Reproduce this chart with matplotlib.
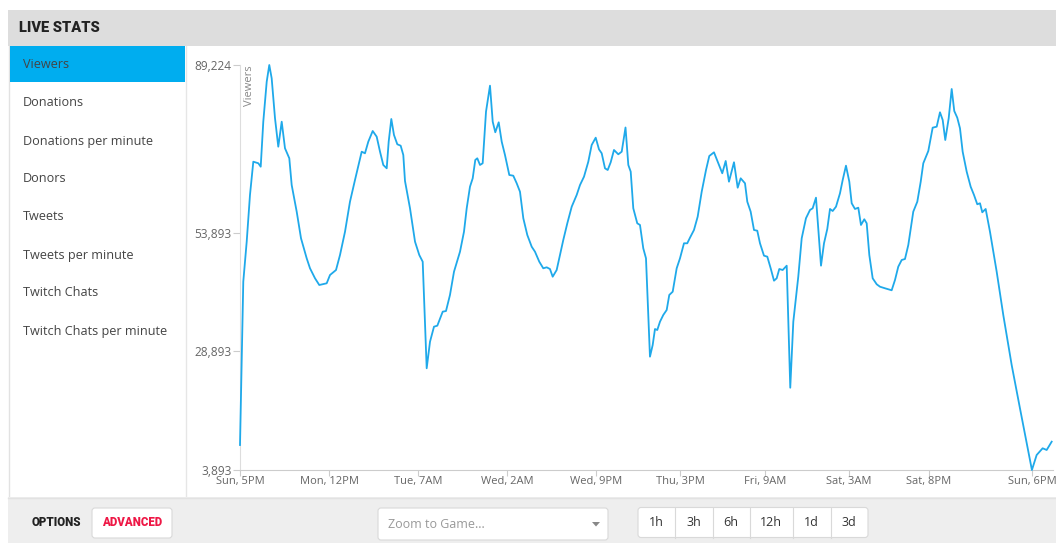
import matplotlib
matplotlib.use('Agg')
import matplotlib.pyplot as plt
from matplotlib.patches import Rectangle, FancyBboxPatch, Polygon

W, H = 1056, 543

# viewer counts over the week (hours after Sun 5PM)
hours = [0.0, 0.70, 1.43, 2.13, 2.84, 3.91, 4.42, 4.97, 5.70, 6.25,
         6.76, 7.47, 8.17, 8.90, 9.60, 10.52, 11.03, 12.10, 13.02, 14.23,
         14.94, 16.01, 16.92, 18.50, 19.21, 20.49, 21.34, 22.41, 23.47, 24.54,
         25.97, 26.67, 27.38, 28.32, 29.17, 29.88, 30.58, 31.31, 31.73, 32.29,
         32.86, 33.57, 34.29, 34.85, 35.21, 36.28, 37.35, 38.26, 38.99, 39.84,
         40.55, 41.40, 42.11, 43.26, 43.96, 44.81, 45.67, 46.95, 47.80, 48.38,
         49.08, 49.66, 50.21, 50.64, 51.22, 51.79, 52.50, 53.35, 53.93, 54.48,
         55.21, 55.85, 56.55, 57.47, 58.32, 59.05, 59.75, 60.46, 61.31, 62.25,
         62.95, 63.87, 64.72, 65.45, 66.15, 66.73, 67.58, 68.29, 68.99, 69.85,
         70.79, 71.85, 72.56, 73.41, 74.33, 75.05, 75.91, 76.61, 77.19, 77.89,
         78.47, 79.11, 79.81, 80.73, 81.46, 82.27, 82.87, 83.38, 83.93, 84.78,
         85.36, 86.06, 86.64, 87.49, 88.07, 88.56, 89.05, 89.63, 90.33, 91.06,
         91.61, 92.34, 93.19, 93.90, 94.75, 95.45, 96.03, 96.88, 97.67, 98.53,
         99.45, 100.15, 101.15, 102.07, 102.92, 103.65, 104.35, 105.42, 106.21, 106.85,
         107.77, 108.26, 108.98, 109.69, 110.39, 110.97, 111.82, 112.53, 113.25, 113.96,
         114.53, 115.09, 115.81, 116.67, 117.43, 118.08, 119.14, 119.87, 120.78, 121.64,
         122.21, 122.92, 123.99, 124.63, 125.33, 125.91, 126.48, 127.19, 128.04, 128.62,
         129.32, 130.03, 130.54, 131.24, 131.95, 132.52, 133.23, 133.74, 134.30, 135.02,
         135.88, 136.58, 137.64, 139.07, 139.78, 140.48, 141.21, 141.91, 142.62, 143.68,
         144.54, 145.27, 145.82, 146.89, 147.82, 148.68, 149.38, 149.96, 150.51, 151.24,
         151.88, 152.43, 153.07, 153.65, 154.22, 155.08, 155.93, 156.64, 157.34, 157.92,
         158.41, 159.13, 160.05, 161.48, 162.89, 164.68, 166.45, 169.0, 170.01, 171.29,
         172.15, 173.22]
viewers = [9160, 43570, 52000, 61840, 68850, 68520, 67800, 77280, 85710, 89224,
           86420, 78000, 72010, 77280, 71680, 69570, 63940, 58320, 52710, 48500,
           46390, 44280, 42870, 43230, 44980, 46030, 49190, 54100, 60420, 65000,
           70960, 70620, 73070, 75320, 74120, 70960, 68160, 67460, 73070, 77850,
           74480, 72520, 72220, 70260, 64790, 59030, 52000, 49190, 47780, 25320,
           30930, 34090, 34300, 37250, 37390, 40770, 45680, 49890, 54100, 59030,
           63580, 65350, 69210, 69570, 68160, 68520, 79390, 84870, 77280, 75050,
           77150, 73070, 70260, 66050, 65900, 64300, 62530, 56930, 53410, 50940,
           49890, 47780, 46390, 46600, 46240, 44620, 46030, 49190, 52350, 55870,
           59370, 61840, 63940, 65690, 68850, 72370, 73910, 71460, 70620, 67460,
           67100, 68730, 71320, 70410, 70960, 76060, 68160, 66750, 59030, 55870,
           55520, 50610, 48500, 27770, 30230, 33600, 33390, 35140, 36550, 37610,
           40770, 41460, 46390, 48500, 51660, 51660, 52840, 54460, 57260, 62530,
           67100, 70050, 70830, 68520, 66410, 69000, 64640, 68730, 63370, 65350,
           64300, 60420, 58320, 54460, 54310, 51660, 49050, 48840, 46390, 43780,
           44280, 46240, 46030, 46940, 21230, 35140, 44620, 52710, 56930, 58680,
           59030, 61270, 46940, 51660, 54670, 58890, 58460, 59370, 62190, 65000,
           68010, 64640, 60090, 58890, 59160, 55520, 56720, 55870, 49190, 44280,
           43020, 42510, 42180, 41760, 43930, 46730, 48140, 48350, 51300, 58320,
           60420, 64640, 68520, 71110, 76020, 76230, 79260, 77640, 73420, 78000,
           84170, 79530, 78120, 75890, 70960, 66750, 63580, 61840, 59880, 60090,
           58190, 58890, 54100, 45680, 36550, 26020, 16890, 3893, 7050, 8470,
           8110, 9860]

tick_hours = [0, 19, 38, 57, 76, 94, 112, 130, 147, 169]
tick_labels = ['Sun, 5PM', 'Mon, 12PM', 'Tue, 7AM', 'Wed, 2AM', 'Wed, 9PM',
               'Thu, 3PM', 'Fri, 9AM', 'Sat, 3AM', 'Sat, 8PM', 'Sun, 6PM']
y_ticks = [3893, 28893, 53893, 89224]

menu_items = ['Viewers', 'Donations', 'Donations per minute', 'Donors', 'Tweets',
              'Tweets per minute', 'Twitch Chats', 'Twitch Chats per minute']
range_buttons = ['1h', '3h', '6h', '12h', '1d', '3d']

BLUE = '#1fa9ea'
plt.rcParams['font.family'] = ['Open Sans', 'DejaVu Sans']

fig = plt.figure(figsize=(W / 100, H / 100), dpi=100)
bg = fig.add_axes([0, 0, 1, 1])
bg.set_xlim(0, W)
bg.set_ylim(H, 0)
bg.axis('off')


def box(x0, y0, x1, y1, fc, ec='none', lw=1.0, z=1):
    bg.add_patch(Rectangle((x0, y0), x1 - x0, y1 - y0, facecolor=fc,
                           edgecolor=ec, linewidth=lw, zorder=z))


def rbox(x0, y0, x1, y1, fc='white', ec='#d9d9d9'):
    bg.add_patch(FancyBboxPatch((x0, y0), x1 - x0, y1 - y0,
                                boxstyle='round,pad=0,rounding_size=3',
                                facecolor=fc, edgecolor=ec, linewidth=0.8, zorder=3))


# header
box(8, 10, W, 46, '#dddddd')
bg.text(19, 28.5, 'LIVE STATS', fontsize=10.5, fontweight='heavy', color='#222222',
        family=['Roboto', 'DejaVu Sans'], va='center', ha='left', zorder=5)

# sidebar
bg.plot([8.5, 8.5], [46, 497], color='#e2e2e2', lw=1, zorder=2)
bg.plot([185.5, 185.5], [46, 497], color='#e6e6e6', lw=1, zorder=2)
box(10, 46, 185, 82, '#00adef', z=2)
for i, name in enumerate(menu_items):
    bg.text(23, 65 + 38 * i, name, fontsize=9.1, color='#444444',
            va='center', ha='left', zorder=5)

# bottom toolbar
box(8, 497, W, H, '#eeeeee', z=2)
bg.plot([8, W], [497.5, 497.5], color='#e2e2e2', lw=1, zorder=3)
bg.text(32, 522.5, 'OPTIONS', fontsize=8.3, fontweight='heavy', color='#222222',
        family=['Roboto', 'DejaVu Sans'], va='center', ha='left', zorder=5)
rbox(92, 508, 172, 538)
bg.text(132, 523, 'ADVANCED', fontsize=8.3, fontweight='heavy', color='#ee1846',
        family=['Roboto', 'DejaVu Sans'], va='center', ha='center', zorder=5)
rbox(378, 508, 608, 540)
bg.text(388, 524, 'Zoom to Game...', fontsize=9, color='#999999',
        va='center', ha='left', zorder=5)
bg.add_patch(Polygon([[592, 522], [600, 522], [596, 526.5]], closed=True,
                     facecolor='#888888', edgecolor='none', zorder=5))

rbox(638, 507.5, 868, 537.5)
seps = [675, 712.5, 749.5, 793, 830.5]
for sx in seps:
    bg.plot([sx, sx], [507.5, 537.5], color='#d9d9d9', lw=0.8, zorder=4)
edges = [638] + seps + [868]
for i, lab in enumerate(range_buttons):
    bg.text((edges[i] + edges[i + 1]) / 2, 523, lab, fontsize=9, color='#333333',
            va='center', ha='center', zorder=5)

# chart
ax = fig.add_axes([240 / W, (H - 470) / H, (1053 - 240) / W, (470 - 65) / H])
ax.patch.set_alpha(0)
ax.plot(hours, viewers, color=BLUE, lw=1.3, clip_on=False, zorder=3,
        solid_joinstyle='round')
ax.set_xlim(0, 173.5)
ax.set_ylim(3893, 89224)
for s in ['top', 'right']:
    ax.spines[s].set_visible(False)
ax.spines['left'].set_color('#dddddd')
ax.spines['bottom'].set_color('#cccccc')
ax.set_yticks(y_ticks)
ax.set_yticklabels([f'{v:,}' for v in y_ticks])
ax.set_xticks(tick_hours)
ax.set_xticklabels(tick_labels)
ax.tick_params(axis='y', length=5, color='#cccccc', labelcolor='#666666',
               labelsize=8.6, pad=1)
ax.tick_params(axis='x', length=4, color='#cccccc', labelcolor='#666666',
               labelsize=8, pad=0)
ax.text(10 / 4.686, 89224, 'Viewers', rotation=90, fontsize=8, color='#888888',
        ha='center', va='top')

fig.savefig('out.png', dpi=100)
